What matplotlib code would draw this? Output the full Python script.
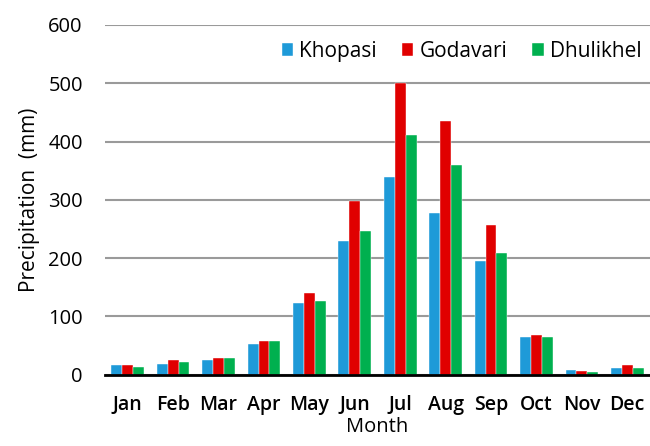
import matplotlib
matplotlib.use("Agg")
import matplotlib.pyplot as plt
import numpy as np

months = ["Jan", "Feb", "Mar", "Apr", "May", "Jun", "Jul", "Aug", "Sep", "Oct", "Nov", "Dec"]
khopasi = [16, 18.5, 25, 53, 122, 229, 339, 277, 194, 64, 8, 11.5]
godavari = [16, 25, 28, 57, 140, 298, 500, 436, 256, 67, 5.5, 15.5]
dhulikhel = [12.5, 22, 28, 57, 126, 246, 411, 360, 208, 64, 5, 12]
series = [("Khopasi", khopasi, "#1E9AD8"), ("Godavari", godavari, "#E00000"), ("Dhulikhel", dhulikhel, "#00B04F")]
yticks = [0, 100, 200, 300, 400, 500, 600]

plt.rcParams['font.family'] = ['Open Sans', 'DejaVu Sans']

fig = plt.figure(figsize=(6.5, 4.46), dpi=100)
ax = fig.add_axes([105/650, 1-374.5/446, 545/650, 349.5/446])

x = np.arange(len(months))
w = 0.24
for i, (name, vals, col) in enumerate(series):
    ax.bar(x + (i-1)*w, vals, width=w, color=col, label=name, zorder=3,
           edgecolor='white', linewidth=0.3)

ax.set_xlim(-0.5, len(months)-0.5)
ax.set_ylim(0, 600)
ax.set_yticks(yticks)
ax.yaxis.grid(True, color='#9A9A9A', linewidth=1.5, zorder=0)
ax.set_axisbelow(True)
for s in ['top', 'right', 'left']:
    ax.spines[s].set_visible(False)
ax.spines['bottom'].set_linewidth(2)
ax.spines['bottom'].set_color('black')
ax.spines['bottom'].set_zorder(4)
ax.tick_params(axis='y', length=0, pad=16, labelsize=14.5)
ax.tick_params(axis='x', length=0, pad=15, labelsize=14)
ax.set_xticks(x)
ax.set_xticklabels(months, fontweight='semibold')
ax.set_xlabel("Month", fontsize=14.5, labelpad=1)
ax.set_ylabel("Precipitation  (mm)", fontsize=15, labelpad=6)

leg = ax.legend(loc='center right', bbox_to_anchor=(1.0, 0.925), ncol=3, frameon=False,
                fontsize=15, handlelength=0.55, handleheight=0.55, handletextpad=0.3,
                columnspacing=1.2, borderaxespad=0.0)

fig.savefig("out.png", dpi=100)
